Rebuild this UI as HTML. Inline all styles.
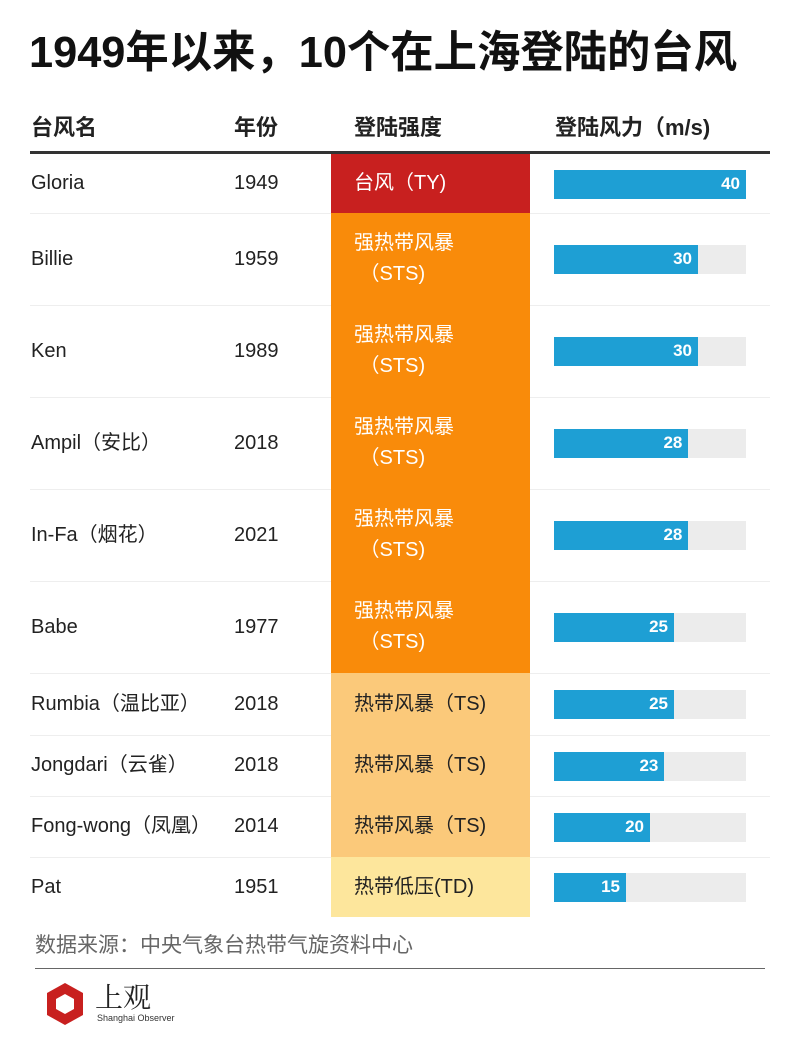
<!DOCTYPE html>
<html><head><meta charset="utf-8">
<style>
body{margin:0;width:800px;height:1045px;background:#fff;font-family:"Liberation Sans","Noto Sans CJK SC",sans-serif;position:relative;overflow:hidden;color:#222}
.a{position:absolute}
.c{position:absolute;display:flex;align-items:center;top:0;bottom:0;white-space:nowrap}
.c>div{line-height:31px;height:auto}
</style></head><body>
<div class="a" style="left:29px;top:26px;font-size:44px;line-height:54px;font-weight:bold;color:#111;transform:scaleX(0.985);transform-origin:left">1949年以来，10个在上海登陆的台风</div>
<div class="a" style="left:31px;top:110px;font-size:22px;font-weight:bold">台风名</div>
<div class="a" style="left:234px;top:110px;font-size:22px;font-weight:bold">年份</div>
<div class="a" style="left:354px;top:110px;font-size:22px;font-weight:bold">登陆强度</div>
<div class="a" style="left:555px;top:110px;font-size:22px;font-weight:bold">登陆风力（m/s)</div>
<div class="a" style="left:30px;top:151px;width:740px;height:3px;background:#333"></div>
<div id="rows"></div>
<div class="a" style="left:35px;top:929px;font-size:21px;color:#666">数据来源：中央气象台热带气旋资料中心</div>
<div class="a" style="left:35px;top:968px;width:730px;height:1px;background:#666"></div>
<div class="a" style="left:45px;top:982px;width:130px;height:45px">
<svg width="40" height="44" viewBox="0 0 40 44" style="position:absolute;left:0;top:0"><polygon points="20,1 38,11 38,33 20,43 2,33 2,11" fill="#c8201f"/><polygon points="20,12 29,17 29,27 20,32 11,27 11,17" fill="#fff"/></svg>
<div class="a" style="left:50px;top:-6px;font-size:28px;color:#222;font-family:'Noto Serif CJK SC',serif">上观</div>
<div class="a" style="left:52px;top:31px;font-size:9px;color:#333">Shanghai Observer</div>
</div>
<script>
const names=["Gloria","Billie","Ken","Ampil（安比）","In-Fa（烟花）","Babe","Rumbia（温比亚）","Jongdari（云雀）","Fong-wong（凤凰）","Pat"];
const years=["1949","1959","1989","2018","2021","1977","2018","2018","2014","1951"];
const levels=["TY","STS","STS","STS","STS","STS","TS","TS","TS","TD"];
const winds=[40,30,30,28,28,25,25,23,20,15];
const rowTops=[154,213,305,397,489,581,673,735,796,857,917];
const lv={TY:{bg:"#c8201f",fg:"#fff",t:"台风（TY)"},STS:{bg:"#f98b0a",fg:"#fff",t:"强热带风暴<br>&nbsp;（STS)"},TS:{bg:"#fbc97a",fg:"#222",t:"热带风暴（TS)"},TD:{bg:"#fde69c",fg:"#222",t:"热带低压(TD)"}};
const maxW=40,barX=554,trackW=192;
const x=v=>v/maxW*trackW;
const c=document.getElementById('rows');
for(let i=0;i<names.length;i++){
 const t=rowTops[i],h=rowTops[i+1]-t;
 const r=document.createElement('div');r.className='a';
 
 
 r.style.cssText=`left:0;top:${t}px;width:800px;height:${h}px`;
 const L=lv[levels[i]];
 r.innerHTML=`<div class="c" style="left:31px;font-size:20px"><div>${names[i]}</div></div>
<div class="c" style="left:234px;font-size:20px"><div>${years[i]}</div></div>
<div class="a" style="left:331px;top:0;width:199px;height:${h}px;background:${L.bg}"></div>
<div class="c" style="left:354px;font-size:20px;color:${L.fg}"><div>${L.t}</div></div>
<div class="a" style="left:${barX}px;top:${h/2-14}px;width:${trackW}px;height:29px;background:#ececec"></div>
<div class="a" style="left:${barX}px;top:${h/2-14}px;width:${x(winds[i])}px;height:29px;background:#1e9fd4"></div>
<div class="a" style="left:${barX}px;top:${h/2-10}px;width:${x(winds[i])-6}px;text-align:right;font-size:17px;font-weight:bold;color:#fff">${winds[i]}</div>`;
 if(i<names.length-1){const s=document.createElement('div');s.className='a';
 
 
 s.style.cssText=`left:30px;top:${rowTops[i+1]}px;width:740px;height:1px;background:#eee`;c.appendChild(s);}
 c.appendChild(r);
}
</script>
</body></html>
